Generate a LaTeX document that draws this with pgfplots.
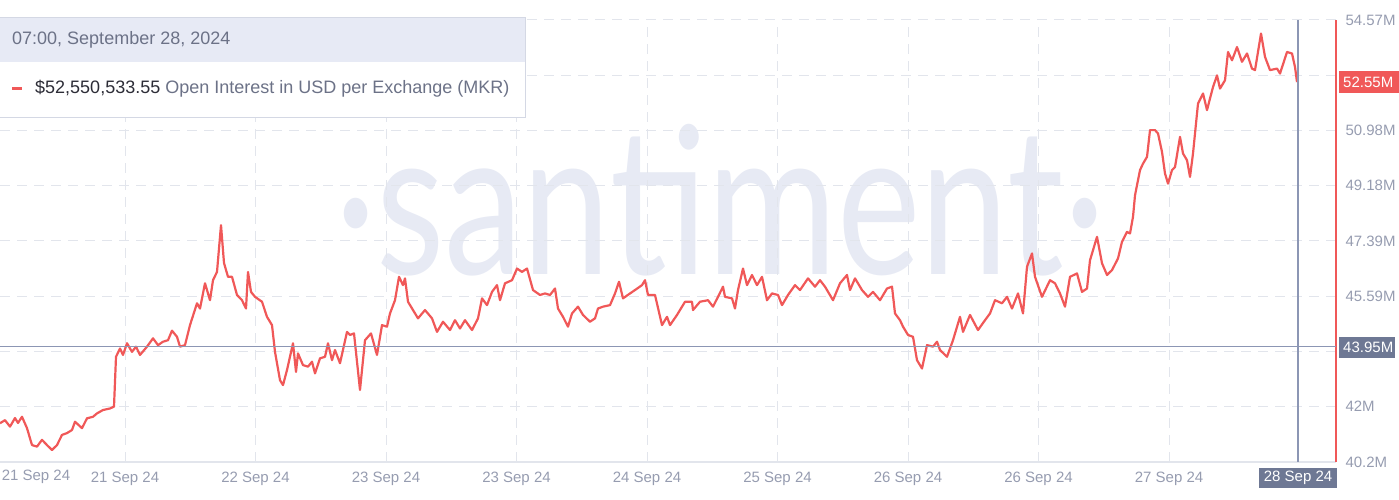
\documentclass[border=0pt]{standalone}
\usepackage{pgfplots}
\pgfplotsset{compat=1.18}
\usepackage{fontspec}
\setmainfont{Liberation Sans}
\newfontfamily\wmfont{Lato}

\definecolor{oiRed}{RGB}{240,88,88}
\definecolor{tagBlue}{RGB}{110,120,148}
\definecolor{tickGray}{RGB}{150,156,176}
\definecolor{gridGray}{RGB}{226,229,236}
\definecolor{wmark}{RGB}{231,234,244}
\definecolor{crossBlue}{RGB}{140,150,180}
\definecolor{hdrFill}{RGB}{231,234,245}
\definecolor{boxLine}{RGB}{212,216,228}
\definecolor{txtGray}{RGB}{108,114,135}
\definecolor{txtDark}{RGB}{45,45,55}

\begin{document}
\begin{tikzpicture}
\useasboundingbox (0,0) rectangle (1399pt,500pt);
% watermark, pixel coordinates (y down)
\begin{scope}[x=1pt,y=-1pt,yshift=500pt]
\node[anchor=base, text=wmark, inner sep=0] at (720,275)
  {\scalebox{0.77}[1]{\wmfont\fontsize{205}{205}\selectfont ·santiment·}};
\end{scope}

\begin{axis}[
  at={(0pt,38pt)}, anchor=south west,
  width=1336pt, height=442pt, scale only axis,
  xmin=0, xmax=1336, ymin=40.2, ymax=54.57,
  axis line style={draw=none}, major tick length=0pt,
  xtick={125,255.5,386,516.5,647,777.5,908,1038.5,1169},
  xticklabels={21 Sep 24,22 Sep 24,23 Sep 24,23 Sep 24,24 Sep 24,25 Sep 24,26 Sep 24,26 Sep 24,27 Sep 24},
  ytick={40.2,42,43.79,45.59,47.39,49.18,50.98,52.77,54.57},
  yticklabels={40.2M,42M,,45.59M,47.39M,49.18M,50.98M,,54.57M},
  yticklabel pos=right,
  grid=major,
  major grid style={gridGray, dash pattern=on 10pt off 7pt, line width=1pt},
  tick label style={font=\fontsize{15}{18}\selectfont, text=tickGray},
  yticklabel style={anchor=west, xshift=6pt},
  xticklabel style={anchor=north, yshift=-6pt},
  clip=false,
]
\draw[gridGray, line width=1.2pt] (axis cs:0,40.2) -- (axis cs:1336,40.2);
\draw[oiRed, line width=2pt] (axis cs:1336,40.2) -- (axis cs:1336,54.57);

\addplot[oiRed, line width=2.2pt, line join=round] coordinates {
(0,41.46) (5,41.56) (10,41.35) (15,41.63) (18,41.47) (22,41.67) (27,41.30) (32,40.75)
(37,40.70) (42,40.92) (47,40.75) (52,40.59) (57,40.75) (62,41.08) (67,41.14) (72,41.24)
(75,41.51) (82,41.30) (87,41.62) (93,41.67) (97,41.78) (103,41.89) (110,41.94) (114,42.00)
(116,43.62) (120,43.89) (123,43.68) (127,44.06) (132,43.78) (136,43.95) (140,43.68) (147,43.95)
(153,44.22) (158,44.00) (163,44.11) (168,44.16) (172,44.47) (177,44.27) (180,43.95) (185,44.00)
(190,44.65) (197,45.36) (200,45.19) (205,46.01) (210,45.46) (213,46.11) (217,46.38) (221,47.90)
(224,46.67) (228,46.22) (232,46.22) (237,45.63) (242,45.46) (246,45.19) (248,46.38) (251,45.73)
(255,45.57) (262,45.41) (267,44.92) (272,44.65) (275,43.78) (280,42.86) (283,42.70) (287,43.19)
(293,44.06) (296,43.13) (298,43.73) (303,43.35) (308,43.30) (312,43.46) (315,43.08) (320,43.57)
(325,43.62) (328,44.06) (332,43.51) (335,43.84) (340,43.41) (347,44.43) (350,44.33) (354,44.38)
(360,42.54) (365,44.16) (371,44.38) (377,43.68) (382,44.65) (387,44.60) (390,45.03) (395,45.46)
(399,46.22) (403,45.95) (405,46.17) (408,45.41) (413,45.14) (418,44.87) (425,45.14) (432,44.87)
(437,44.43) (443,44.76) (450,44.49) (455,44.81) (460,44.54) (465,44.81) (472,44.49) (478,44.87)
(482,45.52) (487,45.30) (492,45.73) (497,45.95) (500,45.46) (505,46.01) (512,46.11) (517,46.49)
(522,46.38) (527,46.49) (533,45.79) (540,45.63) (545,45.68) (550,45.63) (555,45.84) (558,45.19)
(563,44.92) (568,44.60) (572,45.03) (578,45.25) (583,44.98) (590,44.76) (595,44.87) (598,45.19)
(603,45.25) (610,45.30) (615,45.68) (619,46.06) (623,45.52) (630,45.68) (635,45.79) (642,45.95)
(645,46.11) (648,45.63) (655,45.63) (662,44.65) (667,44.92) (670,44.65) (677,44.98) (685,45.41)
(692,45.41) (693,45.14) (700,45.41) (708,45.46) (713,45.25) (718,45.57) (723,45.90) (725,45.57)
(732,45.52) (735,45.19) (738,45.79) (743,46.49) (747,45.95) (752,46.28) (757,45.95) (762,46.22)
(767,45.46) (772,45.68) (778,45.63) (782,45.30) (788,45.63) (795,45.95) (800,45.79) (808,46.17)
(815,45.90) (820,46.11) (825,45.90) (833,45.46) (840,46.01) (847,46.28) (850,45.79) (855,46.17)
(862,45.79) (868,45.57) (873,45.73) (880,45.46) (887,45.84) (892,45.90) (895,45.03) (900,44.81)
(903,44.60) (908,44.33) (913,44.27) (917,43.51) (922,43.24) (927,44.00) (933,43.95) (937,44.11)
(940,43.84) (947,43.62) (953,44.16) (960,44.92) (963,44.43) (970,44.98) (978,44.49) (985,44.81)
(990,45.03) (995,45.46) (1002,45.36) (1007,45.57) (1012,45.19) (1018,45.68) (1023,45.03) (1027,46.55)
(1032,46.98) (1035,46.22) (1042,45.57) (1050,46.11) (1055,46.01) (1060,45.68) (1065,45.25) (1070,46.22)
(1077,46.33) (1082,45.73) (1087,45.84) (1090,46.76) (1097,47.52) (1102,46.66) (1107,46.28) (1112,46.44)
(1118,46.82) (1122,47.36) (1127,47.68) (1130,47.63) (1133,48.17) (1135,48.87) (1140,49.69) (1143,49.90)
(1147,50.12) (1150,50.99) (1155,50.99) (1158,50.88) (1162,50.28) (1165,49.58) (1168,49.25) (1172,49.69)
(1175,49.79) (1180,50.77) (1183,50.23) (1187,50.01) (1190,49.47) (1193,50.23) (1197,51.53) (1198,51.85)
(1203,52.18) (1207,51.64) (1210,52.02) (1213,52.39) (1217,52.77) (1220,52.34) (1225,52.61) (1228,53.53)
(1232,53.26) (1237,53.69) (1242,53.21) (1247,53.48) (1252,52.99) (1255,52.94) (1261,54.13) (1265,53.37)
(1270,52.94) (1277,52.99) (1280,52.83) (1287,53.53) (1292,53.48) (1295,53.04) (1297,52.55)
};

\draw[crossBlue, line width=1.3pt] (axis cs:0,43.95) -- (axis cs:1336,43.95);
\draw[crossBlue, line width=1.3pt] (axis cs:1298,40.2) -- (axis cs:1298,54.57);
\end{axis}

% overlays, pixel coordinates (y down)
\begin{scope}[x=1pt,y=-1pt,yshift=500pt, font=\fontsize{15}{18}\selectfont]
\node[text=tickGray] at (36,477) {21 Sep 24};
\fill[tagBlue] (1259,468) rectangle (1337,488);
\node[text=white] at (1298,478) {28 Sep 24};
\fill[oiRed] (1339,71) rectangle (1399,93);
\node[text=white, anchor=west, inner sep=0] at (1343,82) {52.55M};
\fill[tagBlue] (1339,337) rectangle (1395,358);
\node[text=white, anchor=west, inner sep=0] at (1343,347.5) {43.95M};

% tooltip box
\fill[white] (-2,18) rectangle (525,118);
\fill[hdrFill] (-2,18) rectangle (525,62);
\draw[boxLine, line width=1pt] (-2,18) rectangle (525,118);
\node[anchor=west, text=txtGray, inner sep=0, font=\fontsize{18}{22}\selectfont] at (12,40)
  {07:00, September 28, 2024};
\draw[oiRed, line width=3pt] (12,89) -- (22,89);
\node[anchor=west, inner sep=0, font=\fontsize{18}{22}\selectfont] at (35,89)
  {\textcolor{txtDark}{\$52,550,533.55} \textcolor{txtGray}{Open Interest in USD per Exchange (MKR)}};
\end{scope}
\end{tikzpicture}
\end{document}
